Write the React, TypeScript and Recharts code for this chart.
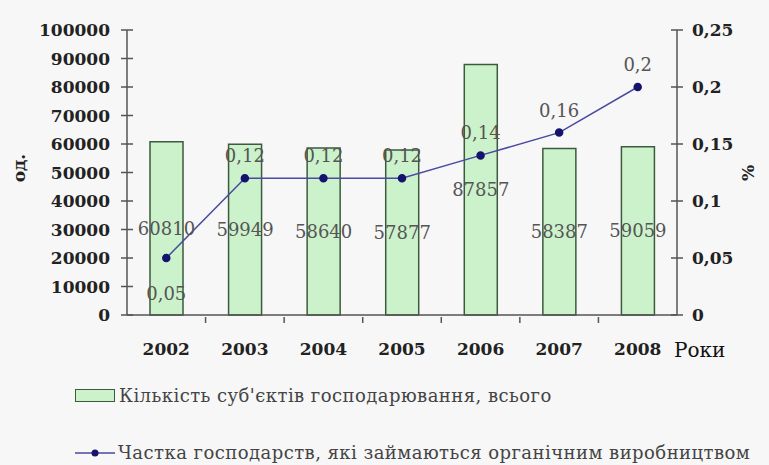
import React from 'react';
import { ComposedChart, Bar, Line, XAxis, YAxis, LabelList } from 'recharts';

const years = ['2002', '2003', '2004', '2005', '2006', '2007', '2008'];
const entities = [60810, 59949, 58640, 57877, 87857, 58387, 59059];
const organicShare = [0.05, 0.12, 0.12, 0.12, 0.14, 0.16, 0.2];
const leftTicks = [0, 10000, 20000, 30000, 40000, 50000, 60000, 70000, 80000, 90000, 100000];
const rightTicks = [0, 0.05, 0.1, 0.15, 0.2, 0.25];

const barName = "Кількість суб'єктів господарювання, всього";
const lineName = 'Частка господарств, які займаються органічним виробництвом';

const data = years.map((y, i) => ({ year: y, count: entities[i], share: organicShare[i] }));

const FONT = '"DejaVu Serif", serif';
const AXIS = '#555';

const comma = (v: number) => String(v).replace('.', ',');

const LeftTick = (props: any) => {
  const { x, y, payload } = props;
  const ax = x + 17;
  return (
    <g>
      <line x1={ax - 6} x2={ax + 6} y1={y} y2={y} stroke={AXIS} strokeWidth={1.5} />
      <text x={x} y={y} dy={6} textAnchor="end" fontFamily={FONT} fontWeight="bold" fontSize={17} fill="#222">
        {payload.value}
      </text>
    </g>
  );
};

const RightTick = (props: any) => {
  const { x, y, payload } = props;
  const ax = x - 15;
  return (
    <g>
      <line x1={ax - 6} x2={ax + 6} y1={y} y2={y} stroke={AXIS} strokeWidth={1.5} />
      <text x={x} y={y} dy={6} textAnchor="start" fontFamily={FONT} fontWeight="bold" fontSize={17} fill="#222">
        {comma(payload.value)}
      </text>
    </g>
  );
};

const BottomTick = (props: any) => {
  const { x, y, payload, index } = props;
  const off = payload.offset || 0;
  return (
    <g>
      {index < years.length - 1 && (
        <line x1={x + off} x2={x + off} y1={y - 6} y2={y} stroke={AXIS} strokeWidth={1.5} />
      )}
      <text x={x} y={y} dy={32} textAnchor="middle" fontFamily={FONT} fontWeight="bold" fontSize={17} fill="#222">
        {payload.value}
      </text>
    </g>
  );
};

const ShareLabel = (props: any) => {
  const { x, y, value, index } = props;
  const below = index === 0;
  return (
    <text x={x} y={below ? y + 42 : y - 16} textAnchor="middle" fontFamily={FONT} fontSize={18} fill="#555">
      {comma(value)}
    </text>
  );
};

const legendText: React.CSSProperties = {
  position: 'absolute',
  left: 75,
  fontFamily: FONT,
  fontSize: 18,
  letterSpacing: 0.45,
  color: '#444',
  display: 'flex',
  alignItems: 'center',
  whiteSpace: 'nowrap',
};

export default function App() {
  return (
    <div style={{ position: 'absolute', left: 0, top: 0, width: 769, height: 465, background: '#f7f7f7' }}>
      <ComposedChart
        width={769}
        height={465}
        data={data}
        margin={{ top: 30, right: 22, bottom: 110, left: 47 }}
        barCategoryGap={0}
      >
        <XAxis
          dataKey="year"
          tick={<BottomTick />}
          tickLine={false}
          tickSize={6}
          axisLine={{ stroke: AXIS, strokeWidth: 1.5 }}
          height={40}
        />
        <YAxis
          yAxisId="left"
          domain={[0, 100000]}
          ticks={leftTicks}
          tick={<LeftTick />}
          tickLine={false}
          tickSize={6}
          tickMargin={11}
          axisLine={{ stroke: AXIS, strokeWidth: 1.5 }}
          width={80}
          interval={0}
        />
        <YAxis
          yAxisId="right"
          orientation="right"
          domain={[0, 0.25]}
          ticks={rightTicks}
          tick={<RightTick />}
          tickLine={false}
          tickSize={6}
          tickMargin={9}
          axisLine={{ stroke: AXIS, strokeWidth: 1.5 }}
          width={70}
          interval={0}
        />
        <Bar
          yAxisId="left"
          dataKey="count"
          name={barName}
          fill="#ccf2cc"
          stroke="#3d5a3d"
          strokeWidth={1.5}
          barSize={33}
          isAnimationActive={false}
        >
          <LabelList dataKey="count" position="center" fontFamily={FONT} fontSize={18} fill="#555" />
        </Bar>
        <Line
          yAxisId="right"
          dataKey="share"
          name={lineName}
          stroke="#4a4aa0"
          strokeWidth={1.5}
          dot={{ r: 3.5, fill: '#14146e', stroke: '#14146e' }}
          isAnimationActive={false}
        >
          <LabelList dataKey="share" content={<ShareLabel />} />
        </Line>
      </ComposedChart>

      <div style={{ position: 'absolute', left: 5, top: 158, transform: 'rotate(-90deg)', fontFamily: FONT, fontWeight: 'bold', fontSize: 17, color: '#222' }}>
        од.
      </div>
      <div style={{ position: 'absolute', left: 740, top: 163, transform: 'rotate(-90deg)', fontFamily: FONT, fontWeight: 'bold', fontSize: 17, color: '#222' }}>
        %
      </div>
      <div style={{ position: 'absolute', left: 674, top: 338, fontFamily: FONT, fontSize: 20, color: '#111' }}>
        Роки
      </div>

      <div style={{ ...legendText, top: 385 }}>
        <span style={{ display: 'inline-block', width: 38, height: 11, background: '#ccf2cc', border: '1.5px solid #3d5a3d', marginRight: 4 }} />
        {barName}
      </div>
      <div style={{ ...legendText, top: 442 }}>
        <svg width={40} height={12} style={{ marginRight: 3 }}>
          <line x1={0} x2={40} y1={6} y2={6} stroke="#4a4aa0" strokeWidth={1.5} />
          <circle cx={20} cy={6} r={3.5} fill="#14146e" />
        </svg>
        {lineName}
      </div>
    </div>
  );
}
